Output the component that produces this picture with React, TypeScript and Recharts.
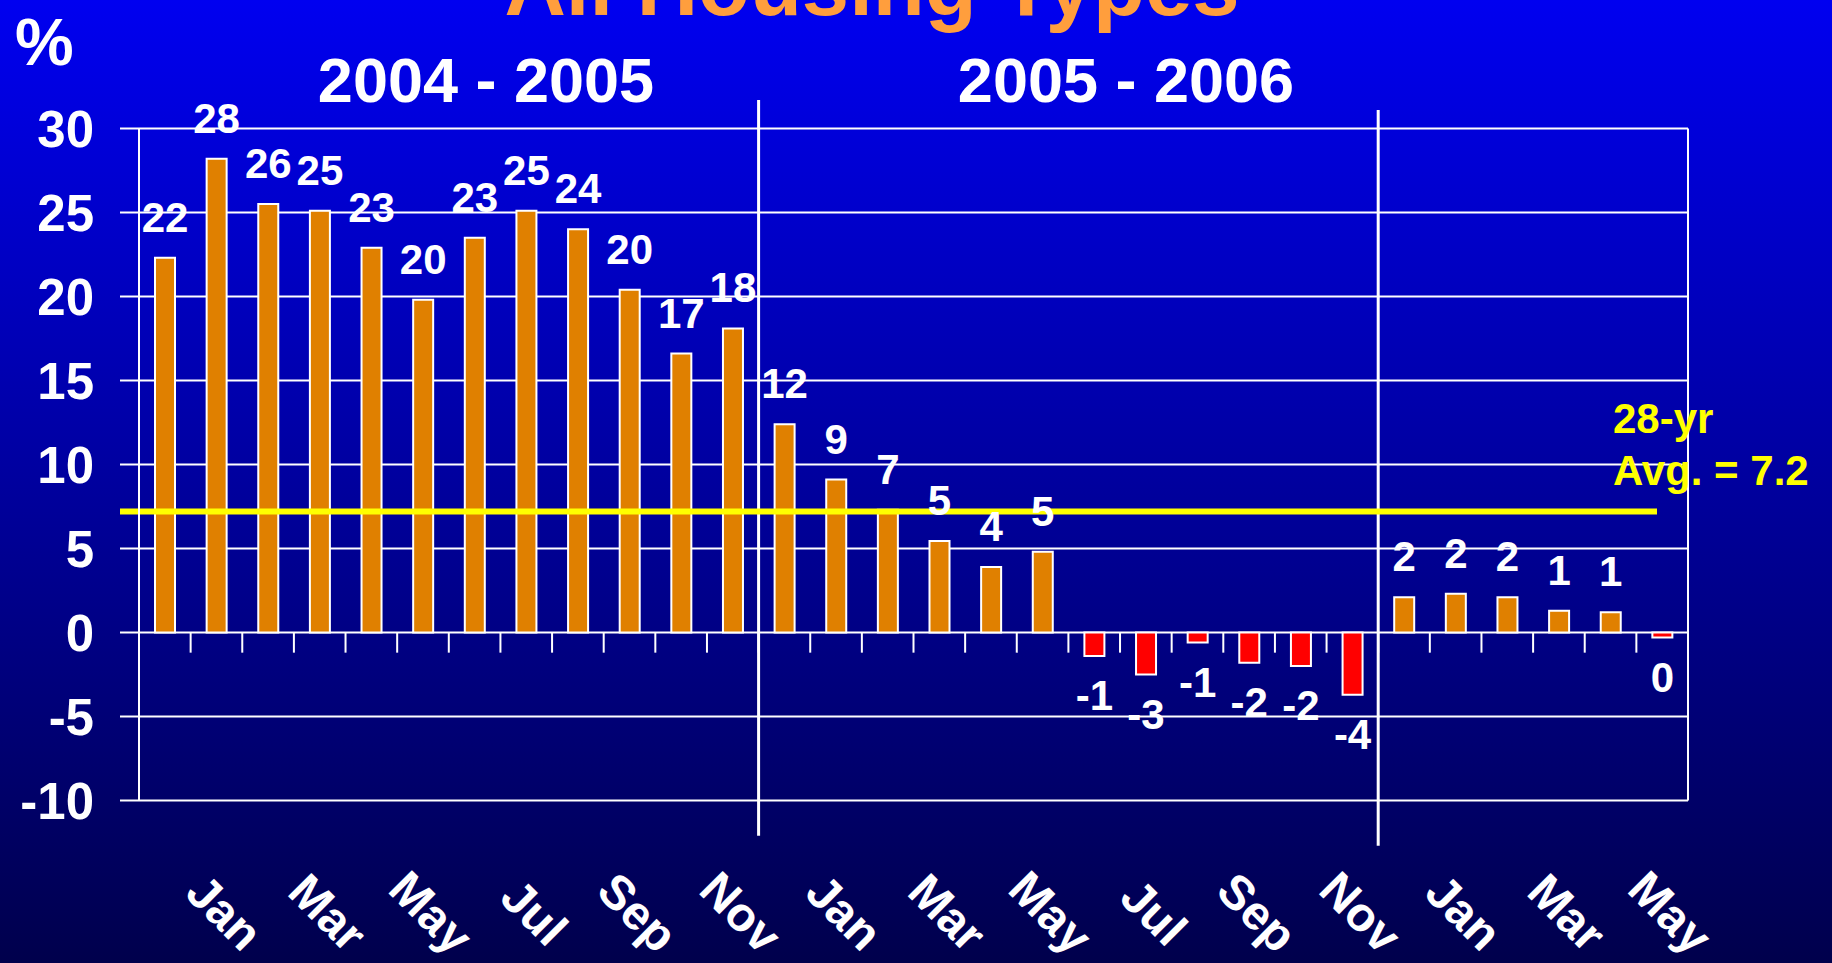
import React from 'react';
import { BarChart, Bar, Cell, XAxis, YAxis, CartesianGrid, ReferenceLine, LabelList } from 'recharts';

// Annual % change, all housing types, by month
const MONTHS = [
  'Dec', 'Jan', 'Feb', 'Mar', 'Apr', 'May', 'Jun', 'Jul', 'Aug', 'Sep', 'Oct', 'Nov',
  'Dec', 'Jan', 'Feb', 'Mar', 'Apr', 'May', 'Jun', 'Jul', 'Aug', 'Sep', 'Oct', 'Nov',
  'Dec', 'Jan', 'Feb', 'Mar', 'Apr', 'May',
];
const VALUES = [
  22.3, 28.2, 25.5, 25.1, 22.9, 19.8, 23.5, 25.1, 24.0, 20.4, 16.6, 18.1,
  12.4, 9.1, 7.3, 5.45, 3.9, 4.8, -1.4, -2.5, -0.6, -1.8, -2.0, -3.7,
  2.1, 2.3, 2.1, 1.3, 1.2, -0.3,
];
const LABELS = [
  '22', '28', '26', '25', '23', '20', '23', '25', '24', '20', '17', '18',
  '12', '9', '7', '5', '4', '5', '-1', '-3', '-1', '-2', '-2', '-4',
  '2', '2', '2', '1', '1', '0',
];
const Y_TICKS = [-10, -5, 0, 5, 10, 15, 20, 25, 30];
const SHOWN_MONTHS = ['Jan', 'Mar', 'May', 'Jul', 'Sep', 'Nov'];
const PERIODS = ['2004 - 2005', '2005 - 2006'];
const AVG_28YR = 7.2;

const W = 1832;
const H = 963;
const FONT = '"Liberation Sans", Arial, Helvetica, sans-serif';
const ORANGE = '#e08000';
const RED = '#ff0000';
const YELLOW = '#ffff00';

const data = MONTHS.map((m, i) => ({ key: `${m}-${i}`, month: m, value: VALUES[i], label: LABELS[i] }));
const labeledKeys = data.filter((d) => SHOWN_MONTHS.includes(d.month)).map((d) => d.key);

const MonthTick = ({ x, y, payload }: any) => {
  const cx = x + 8;
  const cy = y + 112;
  const month = payload.value.split('-')[0];
  return (
    <text x={cx} y={cy} transform={`rotate(45, ${cx}, ${cy})`} textAnchor="middle" dominantBaseline="central"
      fill="#fff" fontSize={48} fontWeight="bold" fontFamily={FONT}>
      {month}
    </text>
  );
};

const BarLabel = ({ x, y, width, height, value, index }: any) => {
  const top = Math.min(y, y + height);
  const bottom = Math.max(y, y + height);
  const neg = VALUES[index] < 0;
  return (
    <text x={x + width / 2} y={neg ? bottom + 54 : top - 26} textAnchor="middle"
      fill="#fff" fontSize={42} fontWeight="bold" fontFamily={FONT}>
      {value}
    </text>
  );
};

// yellow average line runs a bit left of the axis and stops short of the frame
const AvgLine = ({ x1, y1, x2, y2 }: any) => (
  <line x1={x1 - 19} y1={y1} x2={x2 - 31} y2={y2} stroke={YELLOW} strokeWidth={6} />
);

export default function App() {
  return (
    <div style={{ position: 'absolute', left: 0, top: 0, width: W, height: H, overflow: 'hidden',
      background: 'linear-gradient(#0000f0, #00004c)', fontFamily: FONT }}>
      <BarChart width={W} height={H} data={data} margin={{ top: 128.5, right: 144, left: 0, bottom: 0 }}
        style={{ fontFamily: FONT }}>
        <CartesianGrid vertical={false} stroke="#fff" strokeWidth={2} />
        <XAxis dataKey="key" ticks={labeledKeys} interval={0} height={162.5} tickSize={0} tickMargin={0}
          axisLine={false} tickLine={false} tick={<MonthTick />} />
        <YAxis domain={[-10, 30]} ticks={Y_TICKS} width={139} tickSize={19} tickMargin={26}
          axisLine={{ stroke: '#fff', strokeWidth: 2 }} tickLine={{ stroke: '#fff', strokeWidth: 2 }}
          tick={{ fill: '#fff', fontSize: 51, fontWeight: 'bold', fontFamily: FONT }} />
        <Bar dataKey="value" barSize={20} stroke="#fff" strokeWidth={2} isAnimationActive={false}>
          {data.map((d) => (
            <Cell key={d.key} fill={d.value < 0 ? RED : ORANGE} />
          ))}
          <LabelList dataKey="label" content={<BarLabel />} />
        </Bar>
        {data.slice(1).map((d) => (
          <ReferenceLine key={d.key} segment={[{ x: d.key, y: 0 }, { x: d.key, y: -1.2 }]} position="start"
            stroke="#fff" strokeWidth={2} ifOverflow="visible" />
        ))}
        <ReferenceLine segment={[{ x: data[29].key, y: 30 }, { x: data[29].key, y: -10 }]} position="end"
          stroke="#fff" strokeWidth={2} ifOverflow="visible" />
        <ReferenceLine segment={[{ x: data[12].key, y: 31.7 }, { x: data[12].key, y: -12.1 }]} position="start"
          stroke="#fff" strokeWidth={3} ifOverflow="visible" />
        <ReferenceLine segment={[{ x: data[24].key, y: 31.1 }, { x: data[24].key, y: -12.7 }]} position="start"
          stroke="#fff" strokeWidth={3} ifOverflow="visible" />
        <ReferenceLine y={AVG_28YR} ifOverflow="visible" shape={<AvgLine />} />
      </BarChart>
      <svg width={W} height={H} style={{ position: 'absolute', left: 0, top: 0, pointerEvents: 'none' }}
        fontFamily={FONT} fontWeight="bold">
        <text x={872} y={15} textAnchor="middle" fontSize={85} fill="#ff9e3d">All Housing Types</text>
        <text x={15} y={65} fontSize={66} fill="#fff">%</text>
        <text x={486} y={102} textAnchor="middle" fontSize={63} fill="#fff">{PERIODS[0]}</text>
        <text x={1126} y={102} textAnchor="middle" fontSize={63} fill="#fff">{PERIODS[1]}</text>
        <text x={1613} y={433} fontSize={42} fill={YELLOW}>28-yr</text>
        <text x={1613} y={485} fontSize={42} fill={YELLOW}>{`Avg. = ${AVG_28YR}`}</text>
      </svg>
    </div>
  );
}
